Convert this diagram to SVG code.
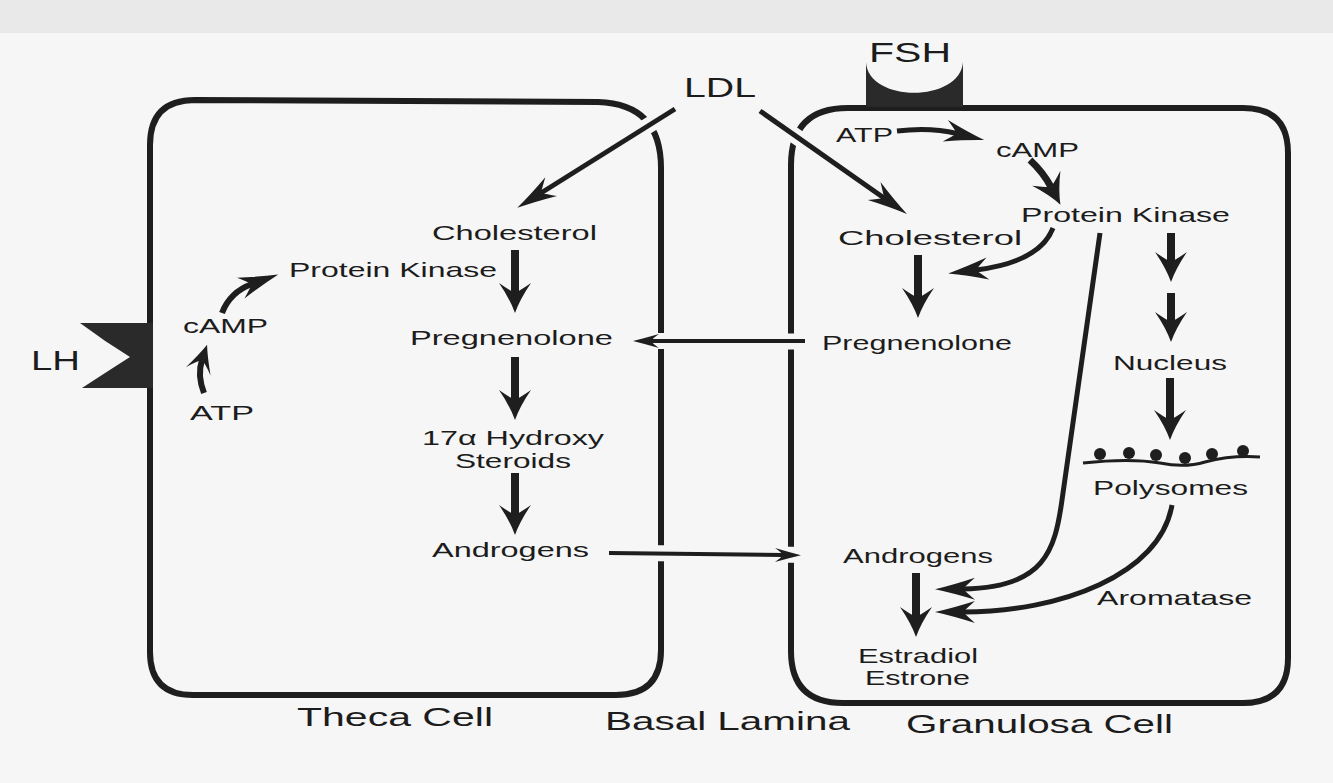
<svg xmlns="http://www.w3.org/2000/svg" width="1333" height="783" viewBox="0 0 1333 783">
<style>
.t{font-family:"Liberation Sans",Arial,sans-serif;font-size:21px;fill:#1c1c1c}
.big{font-size:28px}
.lab{font-size:26px}
.mem{fill:none;stroke:#1e1e1e;stroke-width:6;stroke-linejoin:round}
.c{fill:none;stroke:#1e1e1e;stroke-linecap:butt}
.w8{stroke-width:8}
.w5{stroke-width:5}
.w4{stroke-width:4}
.halo{fill:none;stroke:#f6f6f6;stroke-width:16}
.rec{fill:#2a2a2a}
</style>
<defs>
<marker id="mv" markerUnits="userSpaceOnUse" orient="auto" refX="0" refY="0" markerWidth="60" markerHeight="40" viewBox="-30 -20 60 40" overflow="visible">
<path d="M20,0 Q6,-5 -10,-16 Q-3,-6 0,0 Q-3,6 -10,16 Q6,5 20,0 Z" fill="#1e1e1e"/>
</marker>
<marker id="ml" markerUnits="userSpaceOnUse" orient="auto" refX="0" refY="0" markerWidth="60" markerHeight="40" viewBox="-30 -20 60 40" overflow="visible">
<path d="M28,0 Q10,-4 -12,-11 Q-4,-4 0,0 Q-4,4 -12,11 Q10,4 28,0 Z" fill="#1e1e1e"/>
</marker>
<marker id="ms" markerUnits="userSpaceOnUse" orient="auto" refX="0" refY="0" markerWidth="40" markerHeight="30" viewBox="-20 -15 40 30" overflow="visible">
<path d="M18,0 Q6,-3 -8,-7 Q-2,-3 0,0 Q-2,3 -8,7 Q6,3 18,0 Z" fill="#1e1e1e"/>
</marker>
<marker id="mc" markerUnits="userSpaceOnUse" orient="auto" refX="0" refY="0" markerWidth="40" markerHeight="40" viewBox="-20 -20 40 40" overflow="visible">
<path d="M16,0 Q5,-4 -12,-13 Q-3,-5 0,0 Q-3,5 -12,13 Q5,4 16,0 Z" fill="#1e1e1e"/>
</marker>
</defs>
<rect x="0" y="0" width="1333" height="783" fill="#f6f6f6"/>
<rect x="0" y="0" width="1333" height="33" fill="#e9e9ea"/>

<g id="theca-cell">
<path class="mem" d="M195,100 L598,102 Q661,104 661,168 L661,650 Q661,695 616,695 L193,695 Q150,695 150,652 L150,145 Q150,100 195,100 Z"/>
<path id="lh-receptor" class="rec" d="M80,323 L153,323 L153,388 L82,388 Q108,371 130,357 Q104,341 80,323 Z"/>
</g>
<g id="granulosa-cell">
<path class="mem" d="M848,108 L1243,108 Q1288,108 1288,153 L1288,658 Q1288,703 1243,703 L843,703 Q791,703 791,651 L791,165 Q791,108 848,108 Z"/>
<path id="fsh-receptor" class="rec" d="M866,62 L866,107 L963,107 L963,62 C960,103 868,103 866,62 Z"/>
</g>

<g id="connectors">
<path class="halo" d="M667,114 L620,143"/>
<path class="halo" d="M768,117 L820,153"/>
<path class="halo" d="M680,341 L640,341"/>
<path class="halo" d="M815,341.5 L770,341.5"/>
<path class="halo" d="M640,553 L680,553.5"/>
<path class="halo" d="M770,554.5 L812,555"/>
<path class="c w5" d="M675,109 L541,193" marker-end="url(#ml)"/>
<path class="c w5" d="M760,111 L884,198" marker-end="url(#ml)"/>
<path class="c w8" d="M515,250 L515,293" marker-end="url(#mv)"/>
<path class="c w8" d="M515,357 L515,400" marker-end="url(#mv)"/>
<path class="c w8" d="M515,473 L515,515" marker-end="url(#mv)"/>
<path class="c w4" d="M805,341 L651,341" marker-end="url(#ms)"/>
<path class="c w4" d="M609,553 L783,555" marker-end="url(#ms)"/>
<path class="c" stroke-width="6" d="M204,393 Q197,375 202,360" marker-end="url(#mc)"/>
<path class="c" stroke-width="6" d="M222,313 Q230,292 252,284" marker-end="url(#ml)"/>
<path class="c w5" d="M897,131 Q930,127 957,133.5" marker-end="url(#ml)"/>
<path class="c" stroke-width="7" d="M1030,160 Q1043,172 1051,187" marker-end="url(#mv)"/>
<path class="c w5" d="M1053,228 Q1040,262 976,270" marker-end="url(#ml)"/>
<path class="c w8" d="M918,255 L918,298" marker-end="url(#mv)"/>
<path class="c w5" d="M1100,233 L1062,500 C1055,550 1045,588 963,589" marker-end="url(#ml)"/>
<path class="c w5" d="M1172,505 C1160,575 1060,612 963,612" marker-end="url(#ml)"/>
<path class="c w8" d="M916,573 L916,617" marker-end="url(#mv)"/>
<path class="c w8" d="M1171,233 L1171,262" marker-end="url(#mv)"/>
<path class="c w8" d="M1171,293 L1171,322" marker-end="url(#mv)"/>
<path class="c w8" d="M1170,378 L1170,420" marker-end="url(#mv)"/>
</g>

<g id="ldl"><text class="t big" x="684" y="97" textLength="72" lengthAdjust="spacingAndGlyphs">LDL</text></g>
<g id="fsh"><text class="t big" x="869" y="62" textLength="82" lengthAdjust="spacingAndGlyphs">FSH</text></g>
<g id="lh"><text class="t big" x="31" y="370" textLength="49" lengthAdjust="spacingAndGlyphs">LH</text></g>

<g id="theca-cholesterol"><text class="t" x="432" y="240" textLength="165" lengthAdjust="spacingAndGlyphs">Cholesterol</text></g>
<g id="theca-protein-kinase"><text class="t" x="289" y="277" textLength="208" lengthAdjust="spacingAndGlyphs">Protein Kinase</text></g>
<g id="theca-camp"><text class="t" x="183" y="333" textLength="85" lengthAdjust="spacingAndGlyphs">cAMP</text></g>
<g id="theca-atp"><text class="t" x="190" y="420" textLength="64" lengthAdjust="spacingAndGlyphs">ATP</text></g>
<g id="theca-pregnenolone"><text class="t" x="410" y="345" textLength="203" lengthAdjust="spacingAndGlyphs">Pregnenolone</text></g>
<g id="theca-hydroxy"><text class="t" x="422" y="445" textLength="182" lengthAdjust="spacingAndGlyphs">17α Hydroxy</text><text class="t" x="455" y="468" textLength="116" lengthAdjust="spacingAndGlyphs">Steroids</text></g>
<g id="theca-androgens"><text class="t" x="432" y="557" textLength="157" lengthAdjust="spacingAndGlyphs">Androgens</text></g>

<g id="gran-atp"><text class="t" x="836" y="142" textLength="57" lengthAdjust="spacingAndGlyphs">ATP</text></g>
<g id="gran-camp"><text class="t" x="996" y="157" textLength="83" lengthAdjust="spacingAndGlyphs">cAMP</text></g>
<g id="gran-protein-kinase"><text class="t" x="1021" y="222" textLength="209" lengthAdjust="spacingAndGlyphs">Protein Kinase</text></g>
<g id="gran-cholesterol"><text class="t" x="838" y="245" textLength="184" lengthAdjust="spacingAndGlyphs">Cholesterol</text></g>
<g id="gran-pregnenolone"><text class="t" x="822" y="350" textLength="190" lengthAdjust="spacingAndGlyphs">Pregnenolone</text></g>
<g id="gran-nucleus"><text class="t" x="1113" y="370" textLength="114" lengthAdjust="spacingAndGlyphs">Nucleus</text></g>
<g id="gran-polysomes">
<path fill="none" stroke="#1e1e1e" stroke-width="3" d="M1083,463 Q1130,458 1160,463 Q1185,468 1205,462 Q1232,455 1260,457"/>
<circle cx="1100" cy="454" r="6" fill="#1e1e1e"/>
<circle cx="1129" cy="453" r="6" fill="#1e1e1e"/>
<circle cx="1156" cy="455" r="6" fill="#1e1e1e"/>
<circle cx="1185" cy="458" r="6" fill="#1e1e1e"/>
<circle cx="1212" cy="454" r="6" fill="#1e1e1e"/>
<circle cx="1243" cy="451" r="6" fill="#1e1e1e"/>
<text class="t" x="1093" y="495" textLength="155" lengthAdjust="spacingAndGlyphs">Polysomes</text>
</g>
<g id="gran-androgens"><text class="t" x="843" y="563" textLength="150" lengthAdjust="spacingAndGlyphs">Androgens</text></g>
<g id="gran-aromatase"><text class="t" x="1097" y="605" textLength="155" lengthAdjust="spacingAndGlyphs">Aromatase</text></g>
<g id="gran-estradiol"><text class="t" x="858" y="663" textLength="120" lengthAdjust="spacingAndGlyphs">Estradiol</text><text class="t" x="865" y="685" textLength="105" lengthAdjust="spacingAndGlyphs">Estrone</text></g>

<g id="label-theca"><text class="t lab" x="297" y="726" textLength="196" lengthAdjust="spacingAndGlyphs">Theca Cell</text></g>
<g id="label-basal"><text class="t lab" x="605" y="730" textLength="245" lengthAdjust="spacingAndGlyphs">Basal Lamina</text></g>
<g id="label-granulosa"><text class="t lab" x="906" y="733" textLength="267" lengthAdjust="spacingAndGlyphs">Granulosa Cell</text></g>
</svg>
